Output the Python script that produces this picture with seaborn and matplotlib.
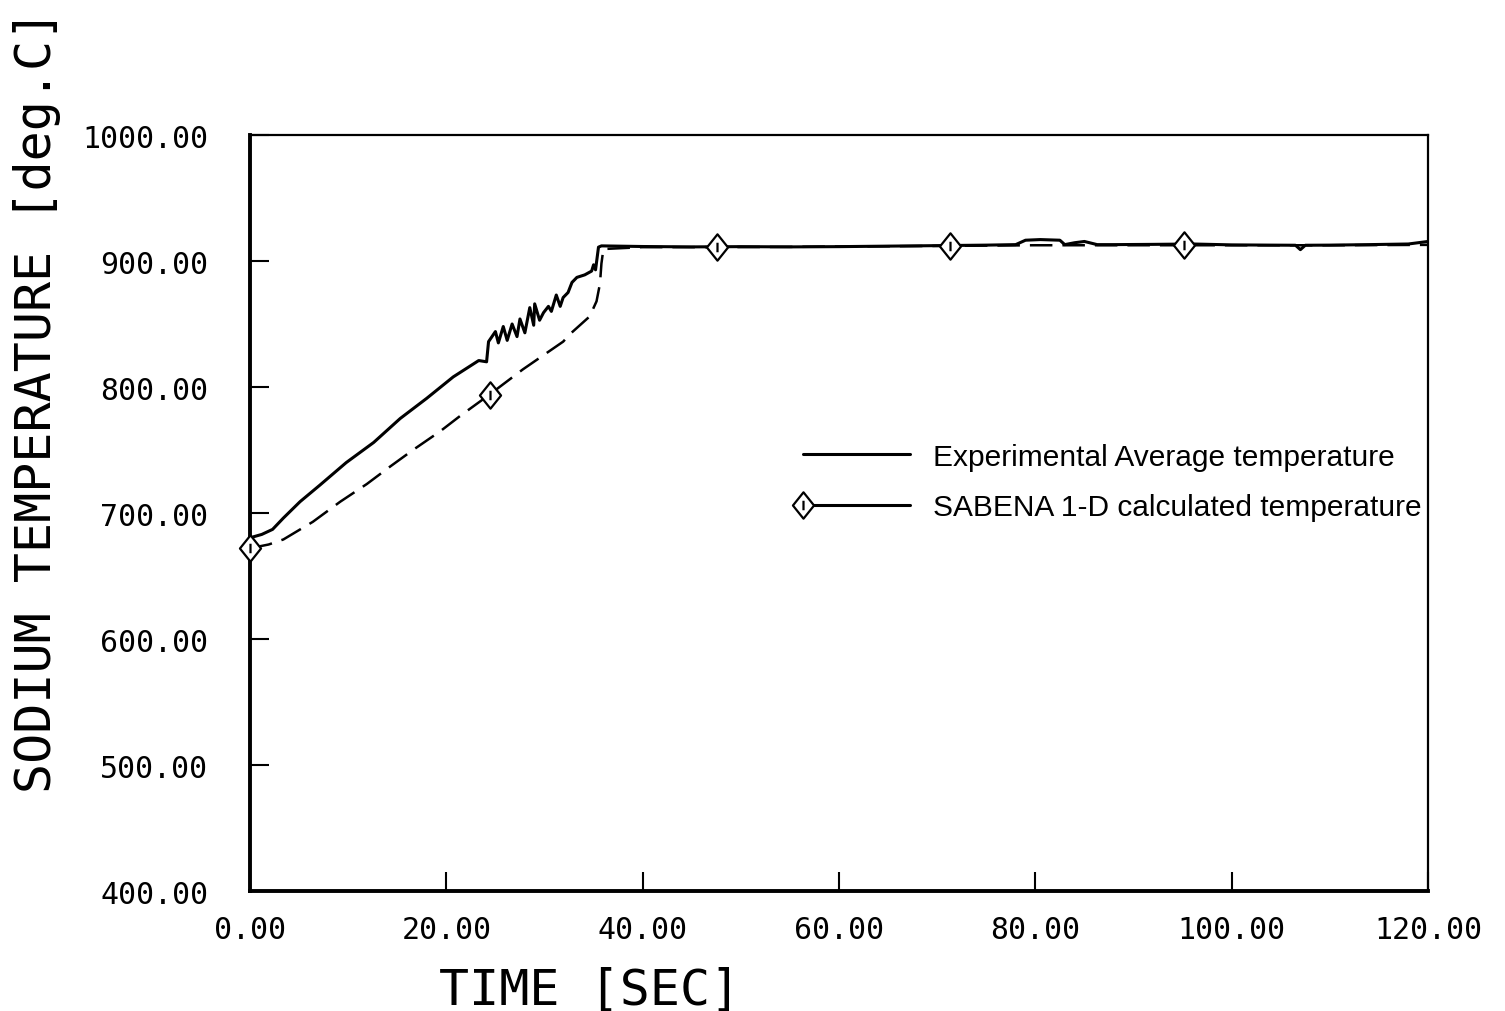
import numpy as np
import pandas as pd
import matplotlib
matplotlib.use("Agg")
import matplotlib.pyplot as plt
from matplotlib.path import Path
from matplotlib.markers import MarkerStyle
from matplotlib.ticker import FormatStrFormatter
from matplotlib.lines import Line2D
from matplotlib.legend_handler import HandlerLine2D
import seaborn as sns

# ---------------- data ----------------
exp_time = [0.0, 0.3, 1.2, 2.3, 3.4, 5.1, 7.1, 9.8, 12.6, 15.3, 18.0, 20.7, 22.7,
            23.3, 24.1, 24.3, 25.0, 25.3, 25.8, 26.2, 26.7, 27.2, 27.5, 28.0,
            28.5, 28.9, 29.0, 29.5, 29.9, 30.4, 30.7, 31.2, 31.6, 31.9, 32.4,
            32.8, 33.3, 34.1, 34.8, 35.0, 35.2, 35.5, 35.8, 40.0, 45.0, 50.0,
            55.0, 60.0, 65.0, 70.0, 75.0, 78.0, 79.0, 80.5, 82.5, 83.0, 84.0,
            85.0, 86.3, 88.0, 92.0, 96.0, 100.0, 104.0, 106.5, 107.0, 107.5,
            110.0, 114.0, 118.0, 120.0]
exp_temp = [680, 681, 683, 687, 696, 709, 722, 740, 756, 775, 791, 808, 818,
            821, 820, 836, 844, 835, 848, 837, 850, 840, 854, 843,
            863, 849, 866, 853, 859, 864, 860, 873, 864, 871, 875,
            883, 887, 889, 892, 897, 893, 911, 912, 911.5, 911.2, 911.4,
            911.2, 911.4, 911.8, 912.2, 912.6, 913.0, 916.5, 917.0, 916.5, 913.0, 914.5,
            915.5, 913.0, 913.0, 913.2, 913.5, 912.8, 912.6, 912.5, 909.0, 912.5,
            912.6, 913.0, 913.5, 915.5]

calc_time = [0.0, 1.9, 3.4, 6.4, 9.2, 11.9, 14.3, 16.6, 19.4, 21.4, 24.4, 27.8,
             31.9, 32.6, 34.6, 35.3, 35.65, 35.8, 36.0, 40.0, 47.6, 55.0, 60.0,
             71.3, 80.0, 90.0, 95.1, 100.0, 110.0, 120.0]
calc_temp = [672, 675, 679, 693, 709, 723, 737, 750, 765, 777, 794, 814,
             836, 842, 856, 868, 882, 898, 909.5, 911.0, 911.0, 911.2, 911.5,
             912.0, 912.5, 912.5, 912.5, 912.5, 912.5, 912.8]
calc_marker_times = [0.0, 24.4, 47.6, 71.3, 95.1]

x_ticks = [0, 20, 40, 60, 80, 100, 120]
y_ticks = [400, 500, 600, 700, 800, 900, 1000]

exp_label = "Experimental Average temperature"
calc_label = "SABENA 1-D calculated temperature"
x_label = "TIME [SEC]"
y_label = "SODIUM TEMPERATURE [deg.C]"

# ---------------- figure ----------------
sns.set_theme(style="white")
plt.rcParams["font.family"] = ["DejaVu Sans Mono", "DejaVu Sans"]
plt.rcParams["text.color"] = "black"

fig = plt.figure(figsize=(15.05, 10.12), dpi=100)
ax = fig.add_axes([250 / 1505, 1 - 892 / 1012, 1178 / 1505, 756 / 1012])

exp_df = pd.DataFrame({"time": exp_time, "temp": exp_temp})
calc_df = pd.DataFrame({"time": calc_time, "temp": calc_temp})

# diamond marker with a small inner stroke
verts = [(0, 1.25), (1, 0), (0, -1.25), (-1, 0), (0, 1.25),
         (0, 0.45), (0, -0.45)]
codes = [Path.MOVETO, Path.LINETO, Path.LINETO, Path.LINETO, Path.CLOSEPOLY,
         Path.MOVETO, Path.LINETO]
diamond = MarkerStyle(Path(verts, codes))

mark_idx = [int(np.argmin(np.abs(np.array(calc_time) - t))) for t in calc_marker_times]

sns.lineplot(data=exp_df, x="time", y="temp", ax=ax, estimator=None, sort=False,
             color="black", linewidth=2.2, zorder=3)
sns.lineplot(data=calc_df, x="time", y="temp", ax=ax, estimator=None, sort=False,
             color="black", linewidth=1.8, linestyle=(0, (9, 4)), zorder=5,
             marker=diamond, markevery=mark_idx, markersize=19, clip_on=False,
             markerfacecolor="white", markeredgecolor="black", markeredgewidth=1.6)

ax.set_xlim(0, 120)
ax.set_ylim(400, 1000)
ax.set_xticks(x_ticks)
ax.set_yticks(y_ticks)
ax.xaxis.set_major_formatter(FormatStrFormatter("%.2f"))
ax.yaxis.set_major_formatter(FormatStrFormatter("%.2f"))
ax.tick_params(axis="both", which="major", direction="in", length=14, width=1.5,
               color="black", labelcolor="black", labelsize=21.5,
               bottom=True, left=True, top=False, right=False)
ax.tick_params(axis="y", pad=30)
ax.tick_params(axis="x", pad=17)

for side in ["left", "bottom"]:
    ax.spines[side].set_linewidth(2.8)
    ax.spines[side].set_color("black")
for side in ["top", "right"]:
    ax.spines[side].set_linewidth(1.6)
    ax.spines[side].set_color("black")
ax.spines["left"].set_zorder(4)

ax.set_xlabel(x_label, fontsize=36, color="black", va="center")
ax.set_ylabel(y_label, fontsize=36, color="black", va="center")
ax.xaxis.set_label_coords(0.288, -0.131)
ax.yaxis.set_label_coords(-0.181, 0.649)


class LeftMarkerHandler(HandlerLine2D):
    def create_artists(self, legend, orig_handle, xdescent, ydescent, width,
                       height, fontsize, trans):
        artists = super().create_artists(legend, orig_handle, xdescent, ydescent,
                                         width, height, fontsize, trans)
        for a in artists:
            a.set_markevery([0])
        return artists


h_exp = Line2D([], [], color="black", linewidth=2.2)
h_calc = Line2D([], [], color="black", linewidth=2.2, marker=diamond,
                markersize=19, markerfacecolor="white", markeredgecolor="black",
                markeredgewidth=1.6)
leg = ax.legend([h_exp, h_calc], [exp_label, calc_label], loc="upper left",
                bbox_to_anchor=(0.4618, 0.593), frameon=False, numpoints=2,
                handlelength=4.2, handletextpad=0.47, labelspacing=0.76,
                borderpad=0, borderaxespad=0, labelcolor="black",
                handler_map={h_calc: LeftMarkerHandler(numpoints=2)},
                prop={"family": ["Liberation Sans", "DejaVu Sans"], "size": 21.5})

fig.savefig("out.png", dpi=100, facecolor="white")
